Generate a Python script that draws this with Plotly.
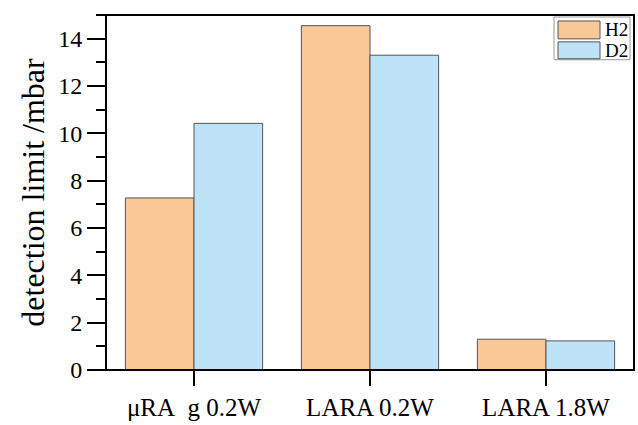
import plotly.graph_objects as go

categories = ["μRA\u00a0\u00a0g 0.2W", "LARA 0.2W", "LARA 1.8W"]
h2_values = [7.27, 14.55, 1.3]
d2_values = [10.42, 13.3, 1.23]
series_names = ["H2", "D2"]
colors = ["#F9C896", "#BEE3F7"]

font_family = "Liberation Serif"

W, H = 638, 425
ML, MR, MT, MB = 106, 4, 15, 53
PW, PH = W - ML - MR, H - MT - MB


def px_x(p):
    return (p - ML) / PW


def px_y(p):
    return (H - MB - p) / PH


fig = go.Figure()
for name, vals, col in zip(series_names, [h2_values, d2_values], colors):
    fig.add_trace(go.Bar(
        x=categories, y=vals, name=name, showlegend=False,
        marker=dict(color=col, line=dict(color="#555555", width=1)),
    ))

shapes = [
    # plot frame
    dict(type="rect", xref="paper", yref="paper", x0=0, x1=1, y0=0, y1=1,
         line=dict(color="black", width=2), layer="above"),
    # legend box
    dict(type="rect", xref="paper", yref="paper",
         x0=px_x(554), x1=px_x(630), y0=px_y(60), y1=px_y(17),
         line=dict(color="#9a9a9a", width=1), fillcolor="white", layer="above"),
]
annotations = []
swatch_rows = [(21, 39), (42, 59)]
for (y0, y1), name, col in zip(swatch_rows, series_names, colors):
    shapes.append(dict(type="rect", xref="paper", yref="paper",
                       x0=px_x(558), x1=px_x(600), y0=px_y(y1), y1=px_y(y0),
                       line=dict(color="#555555", width=1), fillcolor=col, layer="above"))
    annotations.append(dict(xref="paper", yref="paper", x=px_x(603), y=px_y((y0 + y1) / 2),
                            xanchor="left", yanchor="middle", showarrow=False, text=name,
                            font=dict(size=19, family=font_family, color="black")))

fig.update_layout(
    width=W, height=H,
    margin=dict(l=ML, r=MR, t=MT, b=MB),
    paper_bgcolor="white", plot_bgcolor="white",
    barmode="group", bargap=0.22, bargroupgap=0,
    font=dict(family=font_family, color="black"),
    showlegend=False,
    shapes=shapes,
    annotations=annotations,
    xaxis=dict(
        range=[-0.5, 2.5],
        showline=False,
        ticks="outside", ticklen=15, tickwidth=2, tickcolor="black",
        tickfont=dict(size=25, family=font_family),
        showgrid=False,
    ),
    yaxis=dict(
        range=[0, 15],
        tickvals=[0, 2, 4, 6, 8, 10, 12, 14],
        showline=False,
        ticks="outside", ticklen=18, tickwidth=2, tickcolor="black",
        minor=dict(dtick=1, ticks="outside", ticklen=9, tickwidth=2, tickcolor="black"),
        tickfont=dict(size=24, family=font_family),
        title=dict(text="detection limit /mbar", font=dict(size=32, family=font_family), standoff=4),
        showgrid=False, zeroline=False,
    ),
)

fig.write_html("out.html", config={"displayModeBar": False},
               post_script="document.body.style.margin='0';document.body.style.overflow='hidden';")
